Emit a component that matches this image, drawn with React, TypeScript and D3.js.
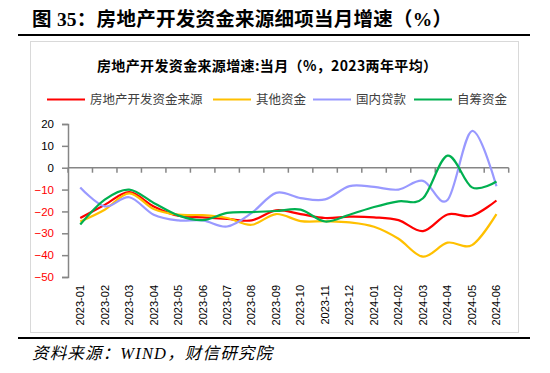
import React, { useEffect, useRef } from 'react';
import * as d3 from 'd3';

const months = [
  '2023-01', '2023-02', '2023-03', '2023-04', '2023-05', '2023-06',
  '2023-07', '2023-08', '2023-09', '2023-10', '2023-11', '2023-12',
  '2024-01', '2024-02', '2024-03', '2024-04', '2024-05', '2024-06',
];

const totalFunds = [-23, -17, -11.2, -17.7, -22, -22.7, -23.4, -24.1, -19.5, -21.2, -23, -22.4, -22.7, -24, -29, -21.4, -22, -15];
const otherFunds = [-24.6, -19.2, -11.7, -18.9, -21.5, -21.7, -23, -26.1, -21.2, -24.4, -24.5, -25, -27, -32.5, -40.7, -34.3, -35.4, -21.2];
const domesticLoans = [-9, -17.7, -13.5, -21.5, -24.1, -24.1, -26.9, -20.7, -11.5, -13.9, -14.5, -8.4, -8.8, -10, -6, -14.8, 16.8, -8.5];
const selfRaised = [-26, -14.6, -10, -16.1, -21.8, -24, -20.7, -20.3, -19.8, -19.2, -24.6, -21.5, -18, -15.4, -14, 5.5, -9, -6.3];

const seriesNames = ['房地产开发资金来源', '其他资金', '国内贷款', '自筹资金'];
const seriesColors = ['#FF0000', '#FFC000', '#9999FF', '#00B050'];
const yTicks = [20, 10, 0, -10, -20, -30, -40, -50];

const W = 550;
const H = 373;

const App: React.FC = () => {
  const svgRef = useRef<SVGSVGElement>(null);

  useEffect(() => {
    if (!svgRef.current) return;
    const svg = d3.select(svgRef.current);
    svg.selectAll('*').remove();

    const cjk = "'Liberation Serif', 'Noto Sans CJK SC', serif";
    const sans = "'Liberation Sans', Arial, 'Noto Sans CJK SC', sans-serif";

    // Header
    svg.append('text')
      .attr('x', 32)
      .attr('y', 26)
      .attr('textLength', 420)
      .attr('lengthAdjust', 'spacing')
      .style('font-family', cjk)
      .style('font-size', '19.5px')
      .style('font-weight', 'bold')
      .attr('fill', '#000')
      .text('图 35：房地产开发资金来源细项当月增速（%）');

    svg.append('line')
      .attr('x1', 18).attr('x2', 530)
      .attr('y1', 35).attr('y2', 35)
      .attr('stroke', '#000').attr('stroke-width', 2);

    // chart frame
    svg.append('rect')
      .attr('x', 30.5).attr('y', 41.5)
      .attr('width', 488).attr('height', 291)
      .attr('fill', '#fff')
      .attr('stroke', '#D9D9D9');

    svg.append('text')
      .attr('x', 267)
      .attr('y', 71)
      .attr('text-anchor', 'middle')
      .attr('textLength', 340)
      .attr('lengthAdjust', 'spacing')
      .style('font-family', "'Noto Sans CJK SC', sans-serif")
      .style('font-size', '14px')
      .style('font-weight', 'bold')
      .attr('fill', '#000')
      .text('房地产开发资金来源增速:当月（%，2023两年平均）');

    // Legend
    const legendX = [47, 213, 313, 414];
    const legend = svg.append('g');
    seriesNames.forEach((name, i) => {
      legend.append('line')
        .attr('x1', legendX[i]).attr('x2', legendX[i] + 38)
        .attr('y1', 99.5).attr('y2', 99.5)
        .attr('stroke', seriesColors[i]).attr('stroke-width', 2);
      legend.append('text')
        .attr('x', legendX[i] + 43)
        .attr('y', 104)
        .style('font-family', "'Noto Sans CJK SC', sans-serif")
        .style('font-size', '12.5px')
        .attr('fill', '#404040')
        .text(name);
    });

    // Scales
    const x = d3.scaleBand<string>().domain(months).range([68, 508.7]);
    const y = d3.scaleLinear().domain([-50, 20]).range([277, 124]);
    const cx = (m: string) => (x(m) as number) + x.bandwidth() / 2;

    // Y axis
    const yAxis = svg.append('g')
      .attr('transform', 'translate(68,0)')
      .call(d3.axisLeft(y).tickValues(yTicks).tickSize(6).tickPadding(8).tickFormat(d3.format('d')));
    yAxis.select('.domain').attr('stroke', '#868686').attr('stroke-width', 1.5);
    yAxis.selectAll('.tick line').attr('stroke', '#868686').attr('stroke-width', 1.5);
    yAxis.selectAll('.tick text')
      .style('font-family', sans)
      .style('font-size', '11.5px')
      .attr('fill', (d: any) => (d < 0 ? '#FF0000' : '#000'));

    // X axis on zero line
    const y0 = y(0);
    const xAxis = svg.append('g');
    xAxis.append('line')
      .attr('x1', x.range()[0]).attr('x2', x.range()[1])
      .attr('y1', y0).attr('y2', y0)
      .attr('stroke', '#868686').attr('stroke-width', 1.5);
    const tickXs = months.map(m => x(m) as number).concat([x.range()[1]]);
    xAxis.selectAll('.xtick')
      .data(tickXs)
      .enter()
      .append('line')
      .attr('x1', d => d).attr('x2', d => d)
      .attr('y1', y0).attr('y2', y0 + 5)
      .attr('stroke', '#868686').attr('stroke-width', 1.5);

    // x labels (rotated)
    svg.append('g')
      .selectAll('text')
      .data(months)
      .enter()
      .append('text')
      .attr('transform', d => `translate(${cx(d)},285) rotate(-90)`)
      .attr('text-anchor', 'end')
      .attr('dy', '0.35em')
      .style('font-family', sans)
      .style('font-size', '11px')
      .attr('fill', '#000')
      .text(d => d);

    // Lines
    const allSeries = [totalFunds, otherFunds, domesticLoans, selfRaised];
    const line = d3.line<number>()
      .x((_, i) => cx(months[i]))
      .y(d => y(d))
      .curve(d3.curveCatmullRom.alpha(0));

    allSeries.forEach((vals, i) => {
      svg.append('path')
        .datum(vals)
        .attr('d', line)
        .attr('fill', 'none')
        .attr('stroke', seriesColors[i])
        .attr('stroke-width', 2.2)
        .attr('stroke-linejoin', 'round');
    });

    // bottom rule + source
    svg.append('line')
      .attr('x1', 18).attr('x2', 530)
      .attr('y1', 338).attr('y2', 338)
      .attr('stroke', '#000').attr('stroke-width', 2);

    svg.append('text')
      .attr('x', 32)
      .attr('y', 359)
      .attr('textLength', 240)
      .attr('lengthAdjust', 'spacing')
      .style('font-family', cjk)
      .style('font-size', '16.5px')
      .style('font-style', 'italic')
      .attr('fill', '#000')
      .text('资料来源：WIND，财信研究院');
  }, []);

  return (
    <svg
      ref={svgRef}
      width={W}
      height={H}
      style={{ position: 'absolute', left: 0, top: 0, background: '#fff' }}
    />
  );
};

export default App;
